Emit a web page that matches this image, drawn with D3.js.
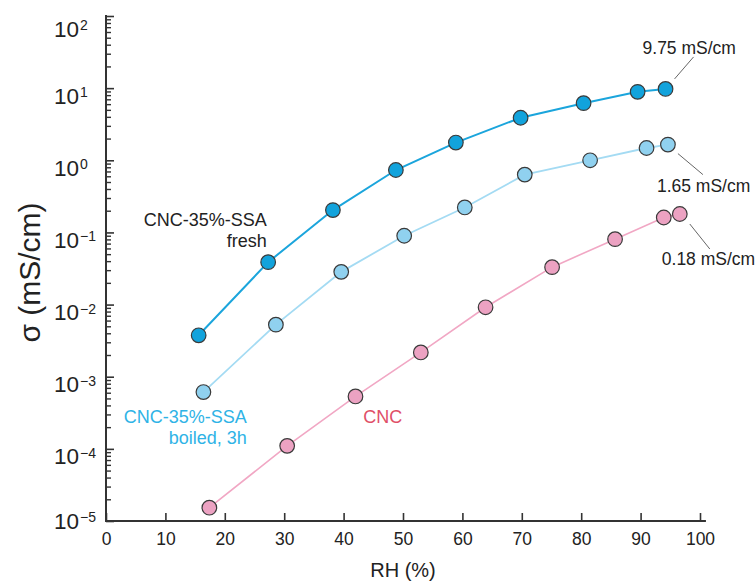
<!DOCTYPE html>
<html>
<head>
<meta charset="utf-8">
<script src="https://cdn.jsdelivr.net/npm/d3@7"></script>
<style>
  body { margin: 0; background: #fff; }
  svg { display: block; font-family: "Liberation Sans", Arial, sans-serif; }
</style>
</head>
<body>
<div id="chart"></div>
<script>
'use strict';

// RH (%) and conductivity (mS/cm)
const rhFresh = [15.6, 27.3, 38.2, 48.8, 58.9, 69.8, 80.4, 89.5, 94.2];
const sigmaFresh = [0.00375, 0.0387, 0.204, 0.733, 1.76, 3.89, 6.19, 8.89, 9.75];

const rhBoiled = [16.4, 28.6, 39.6, 50.2, 60.4, 70.5, 81.5, 91.0, 94.6];
const sigmaBoiled = [0.000613, 0.00527, 0.0284, 0.09, 0.222, 0.633, 1.0, 1.48, 1.65];

const rhCnc = [17.4, 30.5, 42.0, 53.0, 63.9, 75.1, 85.7, 93.9, 96.6];
const sigmaCnc = [1.53e-5, 1.10e-4, 5.33e-4, 2.17e-3, 9.17e-3, 0.033, 0.0807, 0.161, 0.18];

const xTicks = [0, 10, 20, 30, 40, 50, 60, 70, 80, 90, 100];
const yExponents = [-5, -4, -3, -2, -1, 0, 1, 2];

const endLabels = ["9.75 mS/cm", "1.65 mS/cm", "0.18 mS/cm"];

const width = 756, height = 581;
const margin = {top: 16, right: 56, bottom: 60, left: 106};

const svg = d3.select("#chart").append("svg")
    .attr("width", width)
    .attr("height", height);

const x = d3.scaleLinear().domain([0, 100]).range([margin.left, width - margin.right]);
const y = d3.scaleLog().domain([1e-5, 1e2]).range([height - margin.bottom, margin.top]);

const axisColor = "#333";

// x axis: ticks point up into the plot
const xAxis = svg.append("g")
    .attr("transform", `translate(0,${y(1e-5)})`)
    .call(d3.axisBottom(x).tickValues(xTicks).tickSize(-8).tickSizeOuter(0).tickPadding(0));
xAxis.select(".domain").remove();
xAxis.append("line")
    .attr("x1", x(0)).attr("x2", x(101))
    .attr("stroke", axisColor).attr("stroke-width", 2);
xAxis.selectAll(".tick line").attr("stroke", axisColor).attr("stroke-width", 1.6);
xAxis.selectAll(".tick text")
    .attr("y", 23.5).attr("dy", 0)
    .attr("fill", "#222")
    .attr("font-size", 17.5)
    .attr("font-family", "Liberation Sans, Arial, sans-serif");

// y axis: log decades plus minor ticks, all pointing right
const minorValues = [];
yExponents.slice(0, -1).forEach(e => {
    for (let k = 2; k <= 9; k++) minorValues.push(k * Math.pow(10, e));
});

const yMinor = svg.append("g")
    .attr("transform", `translate(${x(0)},0)`)
    .call(d3.axisLeft(y).tickValues(minorValues).tickSize(-5).tickFormat(""));
yMinor.select(".domain").remove();
yMinor.selectAll(".tick line").attr("stroke", axisColor).attr("stroke-width", 1.4);

const yMajor = svg.append("g")
    .attr("transform", `translate(${x(0)},0)`)
    .call(d3.axisLeft(y).tickValues(yExponents.map(e => Math.pow(10, e))).tickSize(-8).tickFormat(""));
yMajor.select(".domain").remove();
yMajor.selectAll(".tick line").attr("stroke", axisColor).attr("stroke-width", 1.6);
yMajor.append("line")
    .attr("y1", y(1e-5) + 1).attr("y2", y(1e2) - 1)
    .attr("stroke", axisColor).attr("stroke-width", 2);

yMajor.selectAll(".tick").each(function(d) {
    const e = Math.round(Math.log10(d));
    const base = e === -5 ? 7 : (e === 2 ? 20 : 15);
    const t = d3.select(this).append("text")
        .attr("x", -52).attr("y", base)
        .attr("text-anchor", "start")
        .attr("fill", "#222")
        .attr("font-size", 22.5)
        .attr("font-family", "Liberation Sans, Arial, sans-serif")
        .text("10");
    t.append("tspan")
        .attr("dx", 1).attr("dy", -6.5)
        .attr("font-size", 14)
        .text(e < 0 ? "\u2212" + (-e) : String(e));
});

// axis titles
svg.append("text")
    .attr("transform", `translate(40,${(y(1e-5) + y(1e2)) / 2 + 4}) rotate(-90)`)
    .attr("text-anchor", "middle")
    .attr("fill", "#222")
    .attr("font-size", 30)
    .text("\u03c3 (mS/cm)");

svg.append("text")
    .attr("x", (x(0) + x(100)) / 2)
    .attr("y", 577)
    .attr("text-anchor", "middle")
    .attr("fill", "#222")
    .attr("font-size", 20)
    .text("RH (%)");

// series
const series = [
    {rh: rhCnc, sigma: sigmaCnc, line: "#f1a7c4", fill: "#eca2c2", lw: 1.6},
    {rh: rhBoiled, sigma: sigmaBoiled, line: "#a4dbf3", fill: "#90d1ef", lw: 1.8},
    {rh: rhFresh, sigma: sigmaFresh, line: "#1ba5dc", fill: "#12a3dc", lw: 2}
];

const line = d3.line()
    .x(d => x(d[0]))
    .y(d => y(d[1]));

series.forEach(s => {
    const pts = s.rh.map((r, i) => [r, s.sigma[i]]);
    svg.append("path")
        .datum(pts)
        .attr("fill", "none")
        .attr("stroke", s.line)
        .attr("stroke-width", s.lw)
        .attr("d", line);
    svg.append("g").selectAll("circle")
        .data(pts)
        .enter().append("circle")
        .attr("cx", d => x(d[0]))
        .attr("cy", d => y(d[1]))
        .attr("r", 7.3)
        .attr("fill", s.fill)
        .attr("stroke", "#3a3a3a")
        .attr("stroke-width", 1.2);
});

// end-value callouts, offset from the last point of each series
const lastFresh = [x(rhFresh[8]), y(sigmaFresh[8])];
const lastBoiled = [x(rhBoiled[8]), y(sigmaBoiled[8])];
const lastCnc = [x(rhCnc[8]), y(sigmaCnc[8])];

const callouts = [
    {p: lastFresh, l1: [9, -10], l2: [28, -32], t: [-23, -35], text: endLabels[0]},
    {p: lastBoiled, l1: [10, 9], l2: [35, 30], t: [-11, 47], text: endLabels[1]},
    {p: lastCnc, l1: [10, 10], l2: [30, 35], t: [-18, 51], text: endLabels[2]}
];

callouts.forEach(c => {
    svg.append("line")
        .attr("x1", c.p[0] + c.l1[0]).attr("y1", c.p[1] + c.l1[1])
        .attr("x2", c.p[0] + c.l2[0]).attr("y2", c.p[1] + c.l2[1])
        .attr("stroke", "#666")
        .attr("stroke-width", 1);
    svg.append("text")
        .attr("x", c.p[0] + c.t[0]).attr("y", c.p[1] + c.t[1])
        .attr("fill", "#222")
        .attr("font-size", 17.5)
        .text(c.text);
});

// series labels
const labels = [
    {rh: 27.05, sigma: 0.1224, lines: ["CNC-35%-SSA", "fresh"], color: "#222", anchor: "end"},
    {rh: 23.7, sigma: 2.3e-4, lines: ["CNC-35%-SSA", "boiled, 3h"], color: "#2fb3e6", anchor: "end"},
    {rh: 43.3, sigma: 2.3e-4, lines: ["CNC"], color: "#e04f68", anchor: "start"}
];

labels.forEach(l => {
    const t = svg.append("text")
        .attr("x", x(l.rh))
        .attr("y", y(l.sigma))
        .attr("text-anchor", l.anchor)
        .attr("fill", l.color)
        .attr("font-size", 18);
    l.lines.forEach((s, i) => {
        t.append("tspan")
            .attr("x", x(l.rh))
            .attr("dy", i === 0 ? 0 : 21)
            .text(s);
    });
});
</script>
</body>
</html>
